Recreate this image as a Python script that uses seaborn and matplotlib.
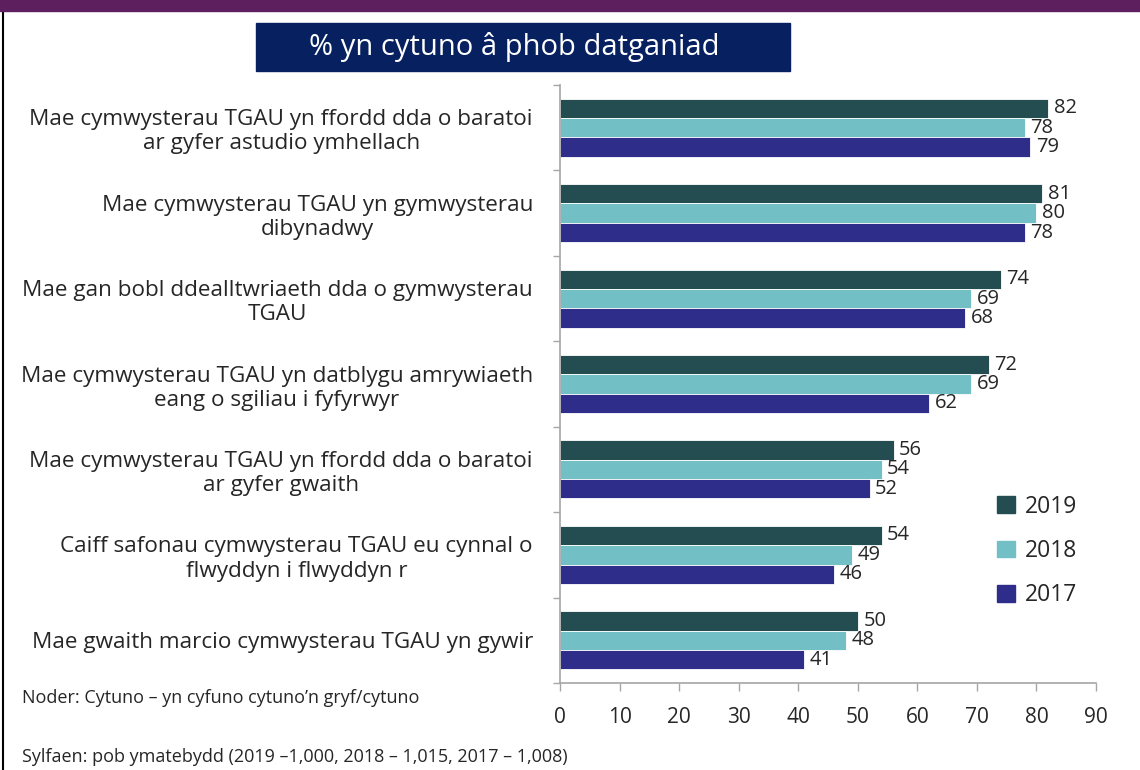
import matplotlib
matplotlib.use("Agg")
import matplotlib.pyplot as plt
import matplotlib.patches as mpatches
from matplotlib.lines import Line2D
import numpy as np
import pandas as pd
import seaborn as sns

statements = [
    "Mae cymwysterau TGAU yn ffordd dda o baratoi\nar gyfer astudio ymhellach",
    "Mae cymwysterau TGAU yn gymwysterau\ndibynadwy",
    "Mae gan bobl ddealltwriaeth dda o gymwysterau\nTGAU",
    "Mae cymwysterau TGAU yn datblygu amrywiaeth\neang o sgiliau i fyfyrwyr",
    "Mae cymwysterau TGAU yn ffordd dda o baratoi\nar gyfer gwaith",
    "Caiff safonau cymwysterau TGAU eu cynnal o\nflwyddyn i flwyddyn r",
    "Mae gwaith marcio cymwysterau TGAU yn gywir",
]
years = ["2019", "2018", "2017"]
vals_2019 = [82, 81, 74, 72, 56, 54, 50]
vals_2018 = [78, 80, 69, 69, 54, 49, 48]
vals_2017 = [79, 78, 68, 62, 52, 46, 41]
colours = ["#234d50", "#72c0c5", "#2e2e8a"]

df = pd.DataFrame({
    "Datganiad": statements * 3,
    "Blwyddyn": ["2019"] * 7 + ["2018"] * 7 + ["2017"] * 7,
    "Canran": vals_2019 + vals_2018 + vals_2017,
})

sns.set_style("white")
plt.rcParams["font.family"] = ["Open Sans", "DejaVu Sans"]

fig = plt.figure(figsize=(11.4, 7.7), dpi=100)
ax = fig.add_axes([560 / 1140, 1 - 683 / 770, 536 / 1140, 598 / 770])

sns.barplot(data=df, y="Datganiad", x="Canran", hue="Blwyddyn", hue_order=years,
            palette=colours, saturation=1, orient="h", width=0.68, edgecolor="white",
            linewidth=0.6, ax=ax, legend=False)

for cont in ax.containers:
    ax.bar_label(cont, padding=4, fontsize=14.5)

ax.set_xlim(0, 90)
ax.set_ylim(6.5, -0.5)
ax.set_xticks(np.arange(0, 91, 10))
ax.set_xlabel("")
ax.set_ylabel("")
ax.set_yticks(range(7))
ax.set_yticklabels(statements, fontsize=16.2, multialignment="center")
ax.set_yticks(np.arange(-0.5, 7, 1), minor=True)
ax.tick_params(axis="y", which="major", length=0, pad=19.5)
ax.tick_params(axis="y", which="minor", length=5, color="#a6a6a6", width=1, left=True)
ax.tick_params(axis="x", length=6, color="#a6a6a6", width=1, pad=11, labelsize=15, bottom=True)
for s in ["top", "right"]:
    ax.spines[s].set_visible(False)
for s in ["left", "bottom"]:
    ax.spines[s].set_color("#a6a6a6")
    ax.spines[s].set_linewidth(1.2)

handles = [mpatches.Patch(color=c, label=y) for c, y in zip(colours, years)]
fig.legend(handles=handles, loc="center left", bbox_to_anchor=(986 / 1140, 1 - 551 / 770),
           frameon=False, fontsize=16.5, handlelength=0.75, handleheight=0.75,
           handletextpad=0.45, labelspacing=0.88, borderpad=0)

# top band, left border, title box
fig.patches.append(mpatches.Rectangle((0, 1 - 11 / 770), 1, 11 / 770, transform=fig.transFigure,
                                      color="#5e1f5e", zorder=5))
fig.lines.append(Line2D([3 / 1140, 3 / 1140], [0, 1 - 11 / 770], transform=fig.transFigure,
                        color="black", lw=1.5))
fig.patches.append(mpatches.Rectangle((256 / 1140, 1 - 71 / 770), 534 / 1140, 48 / 770,
                                      transform=fig.transFigure, color="#062060", zorder=5))
fig.text(514 / 1140, 1 - 47 / 770, "% yn cytuno â phob datganiad", color="white",
         fontsize=21, ha="center", va="center", zorder=6)

fig.text(22 / 1140, 1 - 698 / 770, "Noder: Cytuno – yn cyfuno cytuno’n gryf/cytuno",
         fontsize=13, ha="left", va="center")
fig.text(22 / 1140, 1 - 757 / 770, "Sylfaen: pob ymatebydd (2019 –1,000, 2018 – 1,015, 2017 – 1,008)",
         fontsize=13, ha="left", va="center")

fig.savefig("out.png", dpi=100)
